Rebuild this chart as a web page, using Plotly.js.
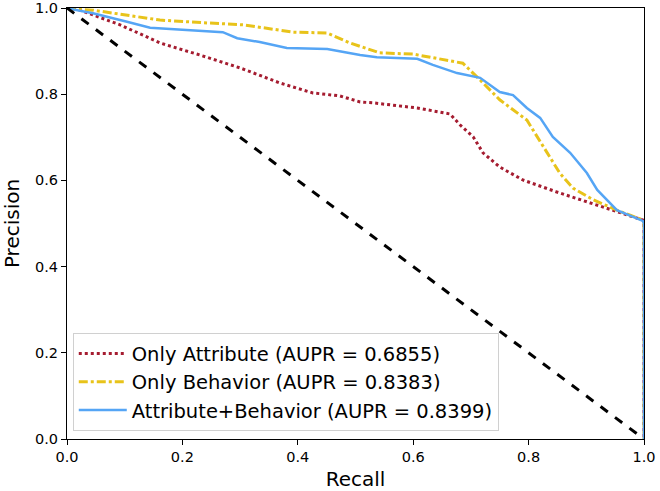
<!DOCTYPE html>
<html>
<head>
<meta charset="utf-8">
<script src="https://cdn.plot.ly/plotly-3.0.1.min.js"></script>
<style>html,body{margin:0;padding:0;background:#fff;}#chart{width:660px;height:491px;}</style>
</head>
<body>
<div id="chart"></div>
<script>
const attrRecall = [0, 0.0225, 0.092, 0.161, 0.230, 0.300, 0.369, 0.426, 0.473, 0.508, 0.530, 0.607, 0.664, 0.681, 0.704, 0.721, 0.750, 0.790, 0.849, 0.906, 0.964, 0.998, 1.0, 1.0];
const attrPrecision = [1.0, 0.995, 0.961, 0.919, 0.891, 0.861, 0.826, 0.803, 0.796, 0.782, 0.780, 0.768, 0.754, 0.729, 0.701, 0.664, 0.631, 0.601, 0.573, 0.548, 0.524, 0.508, 0.5, 0.0];

const behRecall = [0, 0.005, 0.045, 0.104, 0.161, 0.248, 0.305, 0.392, 0.451, 0.490, 0.542, 0.600, 0.659, 0.686, 0.716, 0.750, 0.797, 0.832, 0.854, 0.877, 0.912, 0.953, 0.998, 1.0, 1.0];
const behPrecision = [1.0, 0.998, 0.995, 0.984, 0.972, 0.965, 0.961, 0.944, 0.942, 0.919, 0.896, 0.893, 0.879, 0.872, 0.833, 0.787, 0.740, 0.664, 0.617, 0.582, 0.555, 0.531, 0.508, 0.5, 0.0];

const bothRecall = [0, 0.005, 0.045, 0.075, 0.104, 0.144, 0.208, 0.270, 0.295, 0.334, 0.381, 0.451, 0.508, 0.537, 0.607, 0.634, 0.676, 0.716, 0.750, 0.773, 0.797, 0.820, 0.842, 0.872, 0.901, 0.919, 0.953, 0.998, 1.0, 1.0];
const bothPrecision = [1.0, 0.998, 0.988, 0.977, 0.968, 0.954, 0.949, 0.944, 0.930, 0.921, 0.907, 0.905, 0.891, 0.886, 0.882, 0.868, 0.849, 0.838, 0.805, 0.798, 0.768, 0.745, 0.701, 0.664, 0.617, 0.578, 0.531, 0.506, 0.5, 0.0];

const baseRecall = [0, 1];
const basePrecision = [1, 0];

const names = ["Only Attribute (AUPR = 0.6855)", "Only Behavior (AUPR = 0.8383)", "Attribute+Behavior (AUPR = 0.8399)"];
const xTicks = [0, 0.2, 0.4, 0.6, 0.8, 1.0];
const xTickText = ["0.0", "0.2", "0.4", "0.6", "0.8", "1.0"];
const yTicks = [0, 0.2, 0.4, 0.6, 0.8, 1.0];
const yTickText = ["0.0", "0.2", "0.4", "0.6", "0.8", "1.0"];

const font = "DejaVu Sans, sans-serif";

const traces = [
  {x: attrRecall, y: attrPrecision, mode: "lines", name: names[0],
   line: {color: "#A51C30", width: 3, dash: "dot"}},
  {x: behRecall, y: behPrecision, mode: "lines", name: names[1],
   line: {color: "#E8C31A", width: 3, dash: "dashdot"}},
  {x: bothRecall, y: bothPrecision, mode: "lines", name: names[2],
   line: {color: "#55A5F5", width: 2.5}},
  {x: baseRecall, y: basePrecision, mode: "lines", showlegend: false,
   line: {color: "#000000", width: 3, dash: "dash"}}
];

const layout = {
  width: 660, height: 491,
  margin: {l: 67, r: 16, t: 8, b: 52},
  paper_bgcolor: "#fff", plot_bgcolor: "#fff",
  font: {family: font, size: 14, color: "#000"},
  showlegend: true,
  legend: {x: 0.01, y: 0.018, xanchor: "left", yanchor: "bottom",
    bgcolor: "rgba(255,255,255,0.85)", bordercolor: "#d0d0d0", borderwidth: 1,
    itemwidth: 48,
    font: {family: font, size: 19.5, color: "#000"}, tracegroupgap: 0},
  xaxis: {range: [0, 1], tickvals: xTicks, ticktext: xTickText,
    ticks: "outside", ticklen: 5, tickcolor: "#000", showgrid: false, zeroline: false,
    showline: true, linecolor: "#000", linewidth: 1, mirror: true,
    title: {text: "Recall", font: {family: font, size: 20}, standoff: 8},
    tickfont: {family: font, size: 14.5}},
  yaxis: {range: [0, 1], tickvals: yTicks, ticktext: yTickText,
    ticks: "outside", ticklen: 5, tickcolor: "#000", showgrid: false, zeroline: false,
    showline: true, linecolor: "#000", linewidth: 1, mirror: true,
    title: {text: "Precision", font: {family: font, size: 20}, standoff: 10},
    tickfont: {family: font, size: 14.5}}
};

Plotly.newPlot("chart", traces, layout, {displayModeBar: false, staticPlot: true});
</script>
</body>
</html>
